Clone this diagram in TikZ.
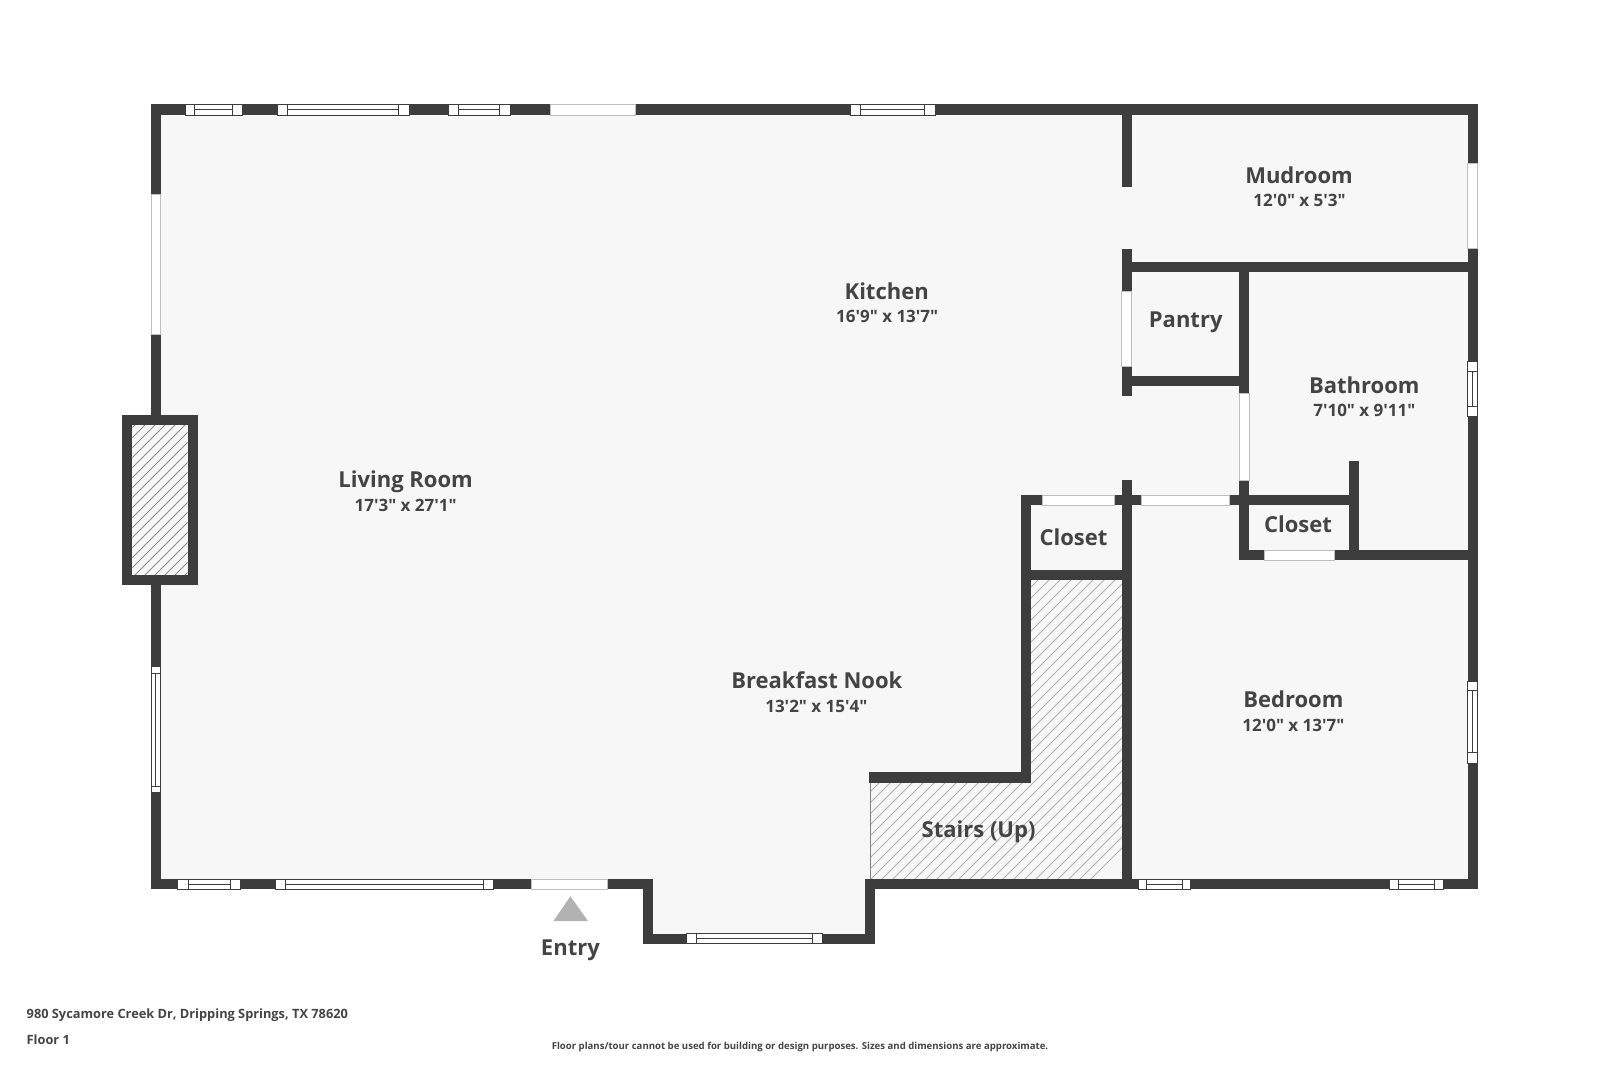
\documentclass[tikz,border=0pt]{standalone}
\usepackage{fontspec}
\setmainfont{Open Sans}[Ligatures=TeXOff]
\definecolor{wallgray}{HTML}{3D3D3D}
\definecolor{floorgray}{HTML}{F7F7F7}
\definecolor{textgray}{HTML}{444444}

\begin{document}
\begin{tikzpicture}[x=1pt,y=-1pt]
        \tikzset{wall/.style={fill=wallgray},
            floorplate/.style={fill=floorgray},
            hatchline/.style={draw=gray!90,line width=0.8pt},
            window/.style={draw=wallgray,fill=white,line width=1pt},
            doorway/.style={draw=black!25,fill=white,line width=0.8pt},
            roomname/.style={font=\fontsize{22}{26}\selectfont\bfseries,text=textgray,inner sep=0pt},
            roomsize/.style={font=\fontsize{17}{22}\selectfont\bfseries,text=textgray,inner sep=0pt},
            footnote/.style={font=\fontsize{12.8}{16}\selectfont\bfseries,text=textgray,inner sep=0pt}}
        \useasboundingbox (0,0) rectangle (1600,1066);
        % floor
        \path[floorplate] (151,104) -- (1478,104) -- (1478,888) -- (874,888) -- (874,943)
            -- (643,943) -- (643,888) -- (151,888) -- cycle;
        % stairs
        \begin{scope}
            \clip (870,782) -- (1030,782) -- (1030,580) -- (1122,580) -- (1122,879) -- (870,879) -- cycle;
            \foreach \x in {880,891,...,1430}
                \draw[hatchline,draw=gray!60] (\x,540) -- (\x-360,900);
        \end{scope}
        \draw[draw=gray,line width=0.8pt] (870,782) -- (870,879);
        % walls
        \foreach \xa/\ya/\xb/\yb in {151/104/1478/115,151/104/160.5/889,151/879/653/889,
            643/879/653/943.5,643/933.5/874.5/943.5,864.5/879/874.5/943.5,865/879/1478/889,
            1467.7/104/1477.7/889,1121.7/104/1131.7/186.7,1121.7/249.3/1131.7/396,
            1121.7/480.3/1131.7/889,1131/262.3/1478/272.3,1239.3/262/1249.3/560.3,
            1121.7/375.7/1249/386,1020.7/495/1358.7/505,1020.7/495/1030.7/782.7,
            869/772.3/1030.4/782.7,1030/570.3/1122/580.3,1348.7/461/1358.7/560.3,
            1239.3/550.3/1478/560.3}
            \fill[wall] (\xa,\ya) rectangle (\xb,\yb);
        % chimney
        \fill[wall] (122.3,414.7) rectangle (197.7,584.7);
        \fill[floorplate] (132.3,425) rectangle (187.7,574.7);
        \begin{scope}
            \clip (132.3,425) rectangle (187.7,574.7);
            \foreach \x in {140,150,...,400}
                \draw[hatchline] (\x,400) -- (\x-200,600);
        \end{scope}
        % doors
        \foreach \xa/\ya/\xb/\yb in {550/104/635.7/115,151/194.3/160.5/334.3,531.7/879/607.8/889,
            1467.7/163.7/1477.7/248.7,1121.7/291.3/1131.7/366,1239.3/393.3/1249.3/480.3,
            1042.3/495/1114/505,1141.7/495/1229.3/505,1264.7/550.3/1334.3/560.3}
            \draw[doorway] (\xa,\ya) rectangle (\xb,\yb);
        % windows along x
        \foreach \xa/\xc/\xd/\xb/\ya/\yb in {185/194.6/232.5/242/104/115,277/287.5/398.6/409/104/115,
            448/458/499/510/104/115,850/860/924/935/104/115,177.8/188.5/230.6/240.8/879/889,
            275/285.4/483/493/879/889,686/696.5/812.3/822.5/933.5/943.5,
            1138/1146.7/1182.6/1190.8/879/889,1389/1398/1434.5/1443/879/889}
        {
            \draw[window] (\xa,\ya) rectangle (\xb,\yb);
            \draw[window] (\xc,\ya) rectangle (\xd,\yb);
            \draw[window] (\xc,{(\ya+\yb)/2}) -- (\xd,{(\ya+\yb)/2});
        }
        % windows along y
        \foreach \ya/\yc/\yd/\yb/\xa/\xb in {666/673/786/792/151/160.5,361.7/371/406.7/416.7/1467.7/1477.7,
            681.6/690/752/763/1467.7/1477.7}
        {
            \draw[window] (\xa,\ya) rectangle (\xb,\yb);
            \draw[window] (\xa,\yc) rectangle (\xb,\yd);
            \draw[window] ({(\xa+\xb)/2},\yc) -- ({(\xa+\xb)/2},\yd);
        }
        % entry mark
        \fill[black!30] (570.4,896.3) -- (588,921) -- (553.5,921) -- cycle;
        % labels
        \node[roomname] (livingroom) at (405.6,482.2) {Living Room};
        \node[roomsize] (livingsize) at (405.6,505.6) {17'3" x 27'1"};
        \node[roomname] (kitchen) at (886.7,291) {Kitchen};
        \node[roomsize] (kitchensize) at (887.2,316.6) {16'9" x 13'7"};
        \node[roomname] (mudroom) at (1299,175.3) {Mudroom};
        \node[roomsize] (mudsize) at (1299.5,200.6) {12'0" x 5'3"};
        \node[roomname] (pantry) at (1185.7,322.4) {Pantry};
        \node[roomname] (bathroom) at (1364.3,385.5) {Bathroom};
        \node[roomsize] (bathsize) at (1364.3,410.6) {7'10" x 9'11"};
        \node[roomname] (closeta) at (1073.5,537.7) {Closet};
        \node[roomname] (closetb) at (1298,524.5) {Closet};
        \node[roomname] (nook) at (816.8,680.6) {Breakfast Nook};
        \node[roomsize] (nooksize) at (816.3,706.2) {13'2" x 15'4"};
        \node[roomname] (bedroom) at (1293.4,699) {Bedroom};
        \node[roomsize] (bedsize) at (1293.4,725.8) {12'0" x 13'7"};
        \node[roomname] (stairs) at (978.6,832.2) {Stairs (Up)};
        \node[roomname] (entry) at (570.4,950.6) {Entry};
        \node[footnote,anchor=west] (address) at (26.5,1015) {980 Sycamore Creek Dr, Dripping Springs, TX 78620};
        \node[footnote,anchor=west] (floorname) at (26.5,1040) {Floor 1};
        \node[footnote,font=\fontsize{9.6}{12}\selectfont\bfseries] (disclaimer) at (800,1046.5)
            {Floor plans/tour cannot be used for building or design purposes. Sizes and dimensions are approximate.};
    \end{tikzpicture}
\end{document}
